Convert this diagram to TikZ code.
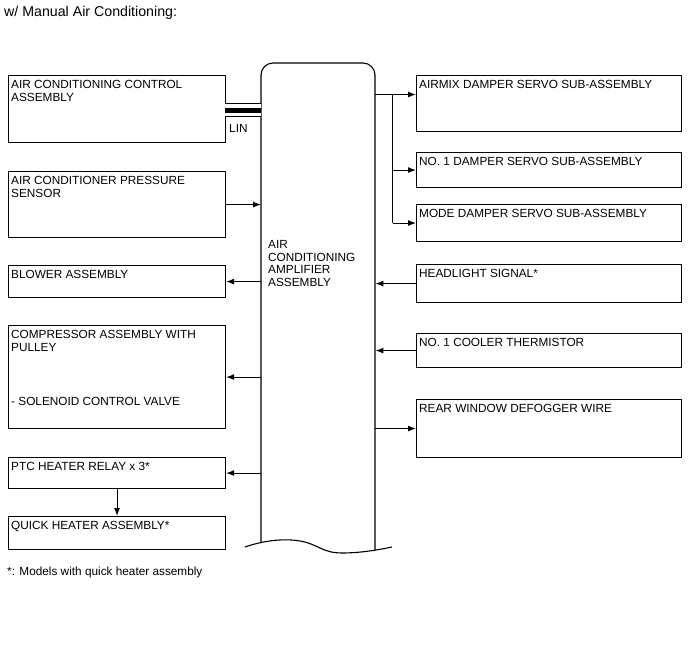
\documentclass[tikz,border=0pt]{standalone}
\usepackage{fontspec}
\setmainfont{Liberation Sans}
\usetikzlibrary{arrows.meta}
\begin{document}
\begin{tikzpicture}[x=1pt,y=-1pt,
  box/.style={draw, line width=1.1pt, inner sep=0, anchor=north west},
  lbox/.style={box, minimum width=217pt},
  rbox/.style={box, minimum width=265pt},
  txt/.style={anchor=north west, inner sep=0, align=left, font=\fontsize{11.8}{13.4}\selectfont},
  conn/.style={line width=1.1pt},
  arr/.style={conn, -{Latex[length=8pt,width=6pt]}}]
\useasboundingbox (0,0) rectangle (688,658);

% title and footnote
\node[anchor=base west, inner sep=0, font=\fontsize{14.2}{16}\selectfont] (title) at (4,16.7) {w/ Manual Air Conditioning:};
\node[anchor=base west, inner sep=0, font=\fontsize{11.8}{13.4}\selectfont] (foot) at (7,575) {*: Models with quick heater assembly};

% central amplifier
\node[inner sep=0, minimum width=114pt, minimum height=480pt, anchor=north west] (amp) at (261,63) {};
\draw[line width=1.1pt, rounded corners=12pt] (261,543) -- (261,63) -- (375,63) -- (375,550);
\draw[line width=1.1pt] (245,547) .. controls (262,541) and (283,538) .. (300,541) .. controls (318,544) and (322,553) .. (342,553) .. controls (360,553) and (378,550) .. (392,547);
\node[txt, font=\fontsize{11.8}{12.7}\selectfont] (ampt) at (268,240) {AIR\\CONDITIONING\\AMPLIFIER\\ASSEMBLY};

% left boxes
\node[lbox, minimum height=67pt] (acc) at (8,75) {};
\node[txt] (acct) at (11,80) {AIR CONDITIONING CONTROL\\ASSEMBLY};
\node[lbox, minimum height=66pt] (press) at (8,171) {};
\node[txt] (presst) at (11,176) {AIR CONDITIONER PRESSURE\\SENSOR};
\node[lbox, minimum height=32pt] (blower) at (8,265) {};
\node[txt] (blowert) at (11,270) {BLOWER ASSEMBLY};
\node[lbox, minimum height=103pt] (comp) at (8,325) {};
\node[txt] (compt) at (11,330) {COMPRESSOR ASSEMBLY WITH\\PULLEY\\[40.6pt]- SOLENOID CONTROL VALVE};
\node[lbox, minimum height=31pt] (ptc) at (8,457) {};
\node[txt] (ptct) at (11,462) {PTC HEATER RELAY x 3*};
\node[lbox, minimum height=33pt] (quick) at (8,516) {};
\node[txt] (quickt) at (11,521) {QUICK HEATER ASSEMBLY*};

% right boxes
\node[rbox, minimum height=56pt] (airmix) at (416,75) {};
\node[txt] (airmixt) at (419,80) {AIRMIX DAMPER SERVO SUB-ASSEMBLY};
\node[rbox, minimum height=35pt] (damp1) at (416,152) {};
\node[txt] (damp1t) at (419,157) {NO. 1 DAMPER SERVO SUB-ASSEMBLY};
\node[rbox, minimum height=37pt] (mode) at (416,204) {};
\node[txt] (modet) at (419,209) {MODE DAMPER SERVO SUB-ASSEMBLY};
\node[rbox, minimum height=38pt] (head) at (416,264) {};
\node[txt] (headt) at (419,269) {HEADLIGHT SIGNAL*};
\node[rbox, minimum height=34pt] (cool) at (416,333) {};
\node[txt] (coolt) at (419,338) {NO. 1 COOLER THERMISTOR};
\node[rbox, minimum height=58pt] (rear) at (416,399) {};
\node[txt] (reart) at (419,404) {REAR WINDOW DEFOGGER WIRE};

% LIN bus
\coordinate (linA) at (225,110.5);
\coordinate (linB) at (261,110.5);
\draw[line width=14pt] (linA) -- (linB);
\draw[line width=12pt, white] (linA) -- (linB);
\draw[line width=5pt] (linA) -- (linB);
\node[anchor=base west, inner sep=0, font=\fontsize{11.8}{13.4}\selectfont] (lin) at (229,133) {LIN};

% left connectors
\draw[arr] (press.east) -- (amp.west |- press.east);
\draw[arr] (amp.west |- blower.east) -- (blower.east);
\draw[arr] (amp.west |- comp.east) -- (comp.east);
\draw[arr] (amp.west |- ptc.east) -- (ptc.east);
\draw[arr] (ptc.south) -- (quick.north);

% right connectors
\coordinate (trunk) at (392.5,94.5);
\draw[arr] (amp.east |- trunk) -- (airmix.west |- trunk);
\draw[conn] (trunk) -- (trunk |- mode.west);
\draw[arr] (trunk |- damp1.west) -- (damp1.west);
\draw[arr] (trunk |- mode.west) -- (mode.west);
\draw[arr] (head.west) -- (amp.east |- head.west);
\draw[arr] (cool.west) -- (amp.east |- cool.west);
\draw[arr] (amp.east |- rear.west) -- (rear.west);
\end{tikzpicture}
\end{document}
